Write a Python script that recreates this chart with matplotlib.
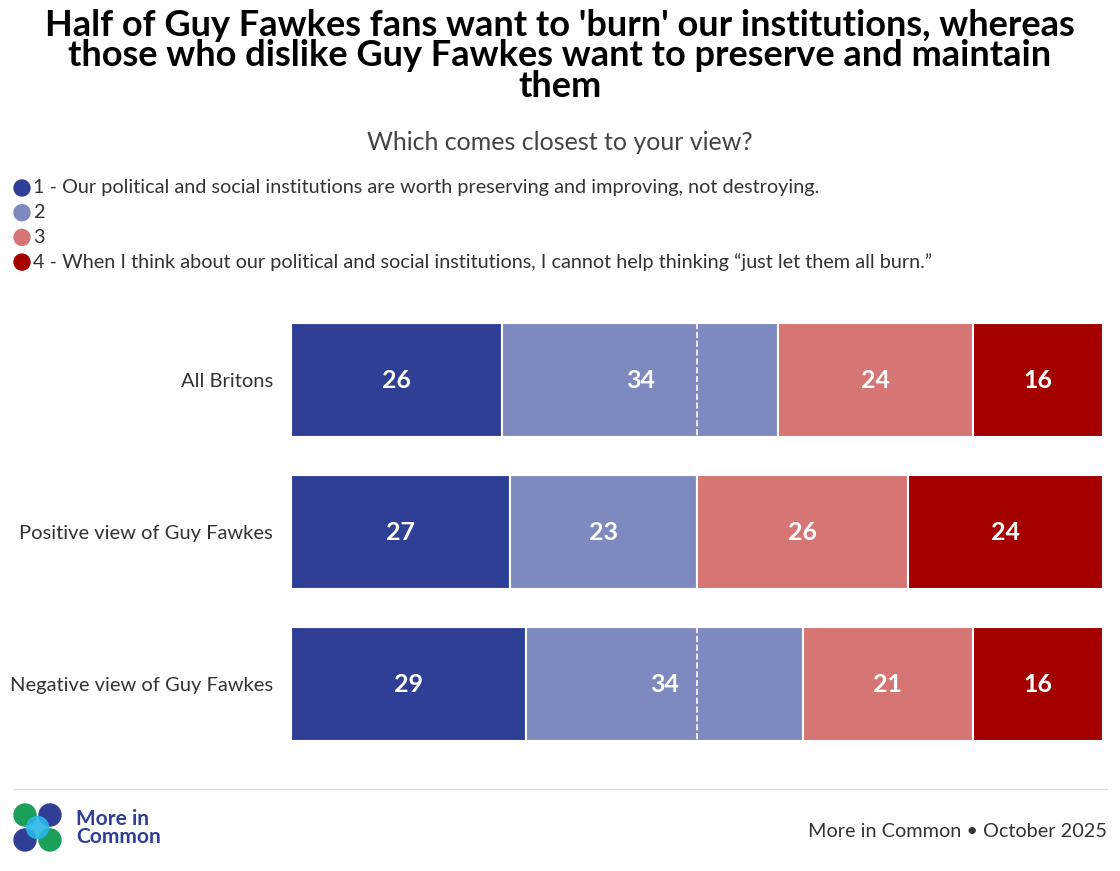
import matplotlib.pyplot as plt
from matplotlib.patches import Ellipse
from matplotlib.lines import Line2D

groups = ["All Britons", "Positive view of Guy Fawkes", "Negative view of Guy Fawkes"]
answers = ["1 - Our political and social institutions are worth preserving and improving, not destroying.",
           "2", "3",
           "4 - When I think about our political and social institutions, I cannot help thinking \u201cjust let them all burn.\u201d"]
vals = [[26, 34, 24, 16],
        [27, 23, 26, 24],
        [29, 34, 21, 16]]
colors = ["#2E3F95", "#7D89BF", "#D57574", "#A50000"]

plt.rcParams['font.family'] = ['Lato', 'DejaVu Sans']
fig = plt.figure(figsize=(11.2, 8.71), dpi=100)
W, H = 1120, 871

def dot(cx, cy, r, c, alpha=1.0):
    # circle in pixel units, placed in figure coords
    fig.patches.append(Ellipse((cx/W, 1 - cy/H), 2*r/W, 2*r/H, transform=fig.transFigure, color=c, alpha=alpha))

fig.text(0.5, 1 - 56/H, "Half of Guy Fawkes fans want to 'burn' our institutions, whereas\nthose who dislike Guy Fawkes want to preserve and maintain\nthem",
         ha='center', va='center', fontsize=26, fontweight='bold', linespacing=0.9)
fig.text(0.5, 1 - 143/H, "Which comes closest to your view?", ha='center', va='center', fontsize=18, color='#444444')

for i, (a, c) in enumerate(zip(answers, colors)):
    y = 188 + 24.7*i
    dot(22, y, 8, c)
    fig.text(33/W, 1 - y/H, a, va='center', fontsize=14.3, color='#333333')

ax = fig.add_axes([291/W, 1 - 741/H, 812/W, 418/H])
for r, row in enumerate(vals):
    left = 0
    for v, c in zip(row, colors):
        ax.barh(r, v, left=left, height=0.75, color=c, edgecolor='white', linewidth=1.5)
        ax.text(left + v/2, r, str(v), ha='center', va='center', color='white', fontsize=18, fontweight='bold')
        left += v
    ax.plot([50, 50], [r - 0.375, r + 0.375], ls='--', color='white', lw=1.2)
ax.set_xlim(0, 100)
ax.set_ylim(2.375, -0.375)
ax.set_yticks(range(len(groups)))
ax.set_yticklabels(groups, fontsize=14.5, color='#333333')
ax.tick_params(axis='y', length=0, pad=13)
ax.set_xticks([])
for s in ax.spines.values():
    s.set_visible(False)

fig.add_artist(Line2D([14/W, 1107/W], [1 - 789/H]*2, color='#dddddd', lw=1))

# logo
dot(25, 815, 11, '#1BA05A')
dot(50, 815, 11, '#2E3F95')
dot(25, 840, 11, '#2E3F95')
dot(50, 840, 11, '#1BA05A')
dot(37.5, 827.5, 11, '#29B6E8', 0.9)
fig.text(76/W, 1 - 828/H, "More in\nCommon", va='center', fontsize=15, fontweight='bold', color='#2E3F95', linespacing=0.9)
fig.text(1107/W, 1 - 831/H, "More in Common \u2022 October 2025", ha='right', va='center', fontsize=14.3, color='#333333')

fig.savefig("out.png", dpi=100)
